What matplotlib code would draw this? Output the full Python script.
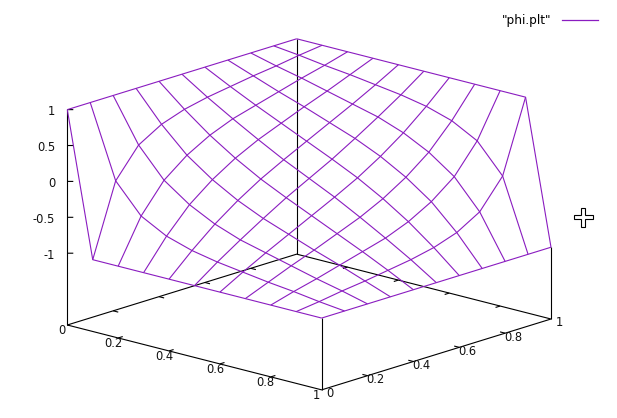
import numpy as np
import matplotlib
matplotlib.use("Agg")
import matplotlib.pyplot as plt
from matplotlib.lines import Line2D
from matplotlib.patches import Polygon

x_values = [0.0, 0.1, 0.2, 0.3, 0.4, 0.5, 0.6, 0.7, 0.8, 0.9, 1.0]
y_values = [0.0, 0.1, 0.2, 0.3, 0.4, 0.5, 0.6, 0.7, 0.8, 0.9, 1.0]
# phi[i][j]: i indexes x, j indexes y
phi = [
    [ 1.00,  1.00,  1.00,  1.00,  1.00,  1.00,  1.00,  1.00,  1.00,  1.00,  1.00],
    [-1.00,  0.00,  0.40,  0.59,  0.70,  0.77,  0.82,  0.87,  0.91,  0.96,  1.00],
    [-1.00, -0.40,  0.00,  0.25,  0.43,  0.56,  0.65,  0.74,  0.83,  0.91,  1.00],
    [-1.00, -0.59, -0.25,  0.00,  0.20,  0.36,  0.49,  0.62,  0.74,  0.87,  1.00],
    [-1.00, -0.70, -0.43, -0.20,  0.00,  0.17,  0.33,  0.49,  0.65,  0.82,  1.00],
    [-1.00, -0.77, -0.56, -0.36, -0.17,  0.00,  0.17,  0.36,  0.56,  0.77,  1.00],
    [-1.00, -0.82, -0.65, -0.49, -0.33, -0.17,  0.00,  0.20,  0.43,  0.70,  1.00],
    [-1.00, -0.87, -0.74, -0.62, -0.49, -0.36, -0.20,  0.00,  0.25,  0.59,  1.00],
    [-1.00, -0.91, -0.83, -0.74, -0.65, -0.56, -0.43, -0.25,  0.00,  0.40,  1.00],
    [-1.00, -0.96, -0.91, -0.87, -0.82, -0.77, -0.70, -0.59, -0.40,  0.00,  1.00],
    [-1.00, -1.00, -1.00, -1.00, -1.00, -1.00, -1.00, -1.00, -1.00, -1.00, -1.00],
]
xy_ticks = [0.0, 0.2, 0.4, 0.6, 0.8, 1.0]
xy_tick_labels = ["0", "0.2", "0.4", "0.6", "0.8", "1"]
z_ticks = [-1.0, -0.5, 0.0, 0.5, 1.0]
z_tick_labels = ["-1", "-0.5", "0", "0.5", "1"]
series_label = '"phi.plt"'

W, H = 617, 418
PURPLE = "#8A1CC0"
FS = 8.3
plt.rcParams["font.family"] = "DejaVu Sans"

fig = plt.figure(figsize=(W / 100, H / 100), dpi=100, facecolor="white")
ax = fig.add_axes([0, 0, 1, 1], projection="3d", proj_type="ortho",
                  elev=16.3, azim=-47.74)
ZFLOOR = -2.0
ax.set_xlim(0, 1)
ax.set_ylim(0, 1)
ax.set_zlim(ZFLOOR, 1)
ax.set_box_aspect((344.6, 342.0, 225.0))
ax.set_xticks([])
ax.set_yticks([])
ax.set_zticks([])
ax.set_axis_off()
ax.computed_zorder = False

# place the 3D box so its floor corners land where the reference has them
M = ax.get_proj()
def view(p):
    v = M @ np.array([p[0], p[1], p[2], 1.0])
    return v[:2] / v[3]
left = view((0, 0, ZFLOOR))
right = view((1, 1, ZFLOOR))
target_left = np.array([67.3, H - 325.0])
target_right = np.array([551.0, H - 319.0])
k = (target_right[0] - target_left[0]) / (right[0] - left[0])
vl = ax.viewLim
cu = (left + right) / 2
ct = (target_left + target_right) / 2
l_px = ct[0] - k * (cu[0] - vl.x0)
b_px = ct[1] - k * (cu[1] - vl.y0)
ax.set_position([l_px / W, b_px / H, k * vl.width / W, k * vl.height / H])

def label(x, y, z, s, ha):
    u, v = view((x, y, z))
    ax.text2D(u, v, s, transform=ax.transData, fontsize=FS, ha=ha,
              va="center", color="#111111")

# box
box = dict(color="black", lw=0.8, zorder=1, solid_capstyle="butt")
corners = [(0, 0), (1, 0), (1, 1), (0, 1), (0, 0)]
ax.plot([c[0] for c in corners], [c[1] for c in corners], [ZFLOOR] * 5, **box)
phi_arr = np.array(phi)
for (cx, cy) in corners[:4]:
    ax.plot([cx, cx], [cy, cy],
            [ZFLOOR, phi_arr[int(cx * 10), int(cy * 10)]], **box)

# ticks (inward, mirrored)
TL = 0.02
for t, lab in zip(xy_ticks, xy_tick_labels):
    if 0 < t < 1:
        ax.plot([t, t], [0, TL], [ZFLOOR] * 2, **box)
        ax.plot([t, t], [1, 1 - TL], [ZFLOOR] * 2, **box)
        ax.plot([0, TL], [t, t], [ZFLOOR] * 2, **box)
        ax.plot([1, 1 - TL], [t, t], [ZFLOOR] * 2, **box)
    label(t, -0.0218, ZFLOOR - 0.052, lab, "center")
    label(1.0314, t, ZFLOOR - 0.027, lab, "center")
for t, lab in zip(z_ticks, z_tick_labels):
    ax.plot([0, 0.0129], [0, 0.0118], [t, t], **box)
    label(-0.047, 0, t - 0.07, lab, "right")

# surface
X, Y = np.meshgrid(x_values, y_values, indexing="ij")
ax.plot_wireframe(X, Y, phi_arr, rstride=1, cstride=1, color=PURPLE,
                  linewidth=0.8, zorder=2)

handle = Line2D([], [], color=PURPLE, lw=0.9)
leg = ax.legend([handle], [series_label], loc="upper right",
                bbox_to_anchor=(597.5 / W, 1 - 14 / H),
                bbox_transform=fig.transFigure, frameon=False, fontsize=8.7,
                markerfirst=False, handlelength=2.95, handletextpad=0.9,
                borderpad=0, borderaxespad=0)

# mouse cursor cross visible in the screenshot
cx, cy, arm, half = 583.0, 217.0, 9.5, 2.0
shape = [(-half, -arm), (half, -arm), (half, -half), (arm, -half), (arm, half),
         (half, half), (half, arm), (-half, arm), (-half, half), (-arm, half),
         (-arm, -half), (-half, -half)]
fig.add_artist(Polygon([((cx + a) / W, 1 - (cy + b) / H) for a, b in shape],
                       closed=True, facecolor="white", edgecolor="black",
                       linewidth=0.8, transform=fig.transFigure))

fig.savefig("out.png", dpi=100, facecolor="white")
